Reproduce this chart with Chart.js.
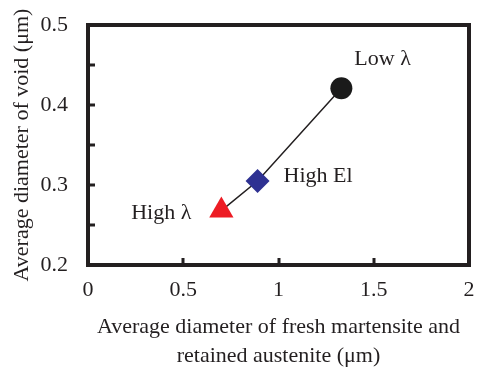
<!DOCTYPE html>
<html>
<head>
<meta charset="utf-8">
<script src="https://cdn.jsdelivr.net/npm/chart.js@4"></script>
<style>
html, body { margin: 0; padding: 0; background: #fff; }
</style>
</head>
<body>
<canvas id="grafico" width="478" height="374"></canvas>
<script>
// DADOS
var names = ['High λ', 'High El', 'Low λ'];
var xVals = [0.70, 0.89, 1.33];
var yVals = [0.268, 0.305, 0.421];
var xTicks = [0, 0.5, 1, 1.5, 2];
var yTicks = [0.2, 0.3, 0.4, 0.5];
var xMarks = [0.5, 1, 1.5];
var yMarks = [0.25, 0.3, 0.35, 0.4, 0.45];

var ink = '#231f20';
var serif = 'Liberation Serif, Times New Roman, serif';

var pts = xVals.map(function (x, i) { return { x: x, y: yVals[i] }; });

// moldura + marcas para dentro + rótulos dos pontos
var extras = {
  id: 'extras',
  afterDraw: function (chart) {
    var ctx = chart.ctx, a = chart.chartArea;
    var sx = chart.scales.x, sy = chart.scales.y;
    ctx.save();
    ctx.strokeStyle = ink;
    ctx.lineWidth = 4;
    ctx.strokeRect(a.left, a.top, a.right - a.left, a.bottom - a.top);
    ctx.lineWidth = 3;
    ctx.beginPath();
    xMarks.forEach(function (v) {
      var px = Math.round(sx.getPixelForValue(v));
      ctx.moveTo(px, a.bottom);
      ctx.lineTo(px, a.bottom - 7);
    });
    yMarks.forEach(function (v) {
      var py = Math.round(sy.getPixelForValue(v));
      ctx.moveTo(a.left, py);
      ctx.lineTo(a.left + 7, py);
    });
    ctx.stroke();

    ctx.fillStyle = ink;
    ctx.font = '22px ' + serif;
    ctx.textBaseline = 'middle';
    var offs = [[-30, 3, 'right'], [26, -5, 'left'], [13, -29, 'left']];
    names.forEach(function (n, i) {
      var px = sx.getPixelForValue(xVals[i]);
      var py = sy.getPixelForValue(yVals[i]);
      ctx.textAlign = offs[i][2];
      ctx.fillText(n, px + offs[i][0], py + offs[i][1]);
    });
    ctx.restore();
  }
};

new Chart(document.getElementById('grafico'), {
  type: 'scatter',
  data: {
    datasets: [{
      data: pts,
      showLine: true,
      borderColor: ink,
      borderWidth: 1.5,
      pointStyle: ['triangle', 'rectRot', 'circle'],
      pointRadius: [14, 12, 11],
      pointBackgroundColor: ['#ed1c24', '#2e3192', '#1a1a1a'],
      pointBorderWidth: 0,
      pointHoverRadius: [14, 12, 11]
    }]
  },
  options: {
    responsive: false,
    animation: false,
    events: [],
    layout: { autoPadding: false, padding: { top: 25, right: 9, left: 0, bottom: 0 } },
    plugins: { legend: { display: false }, tooltip: { enabled: false } },
    scales: {
      x: {
        type: 'linear',
        min: 0, max: 2,
        afterBuildTicks: function (s) { s.ticks = xTicks.map(function (v) { return { value: v }; }); },
        afterFit: function (s) { s.height = 109; s.paddingLeft = 0; s.paddingRight = 0; },
        grid: { display: false },
        border: { display: false },
        ticks: {
          color: ink, padding: 4, maxRotation: 0, autoSkip: false,
          font: { family: serif, size: 22 },
          callback: function (v) { return String(v); }
        },
        title: {
          display: true,
          text: ['Average diameter of fresh martensite and', 'retained austenite (μm)'],
          color: ink,
          font: { family: serif, size: 22, lineHeight: 1.32 },
          padding: { top: 0, bottom: 3 }
        }
      },
      y: {
        type: 'linear',
        min: 0.2, max: 0.5,
        afterBuildTicks: function (s) { s.ticks = yTicks.map(function (v) { return { value: v }; }); },
        afterFit: function (s) { s.width = 88; s.paddingTop = 0; s.paddingBottom = 0; },
        grid: { display: false },
        border: { display: false },
        ticks: {
          color: ink, padding: 12, autoSkip: false,
          font: { family: serif, size: 22 },
          callback: function (v) { return v.toFixed(1); }
        },
        title: {
          display: true,
          text: 'Average diameter of void (μm)',
          color: ink,
          font: { family: serif, size: 22 },
          padding: { top: 9, bottom: 0 }
        }
      }
    }
  },
  plugins: [extras]
});
</script>
</body>
</html>
